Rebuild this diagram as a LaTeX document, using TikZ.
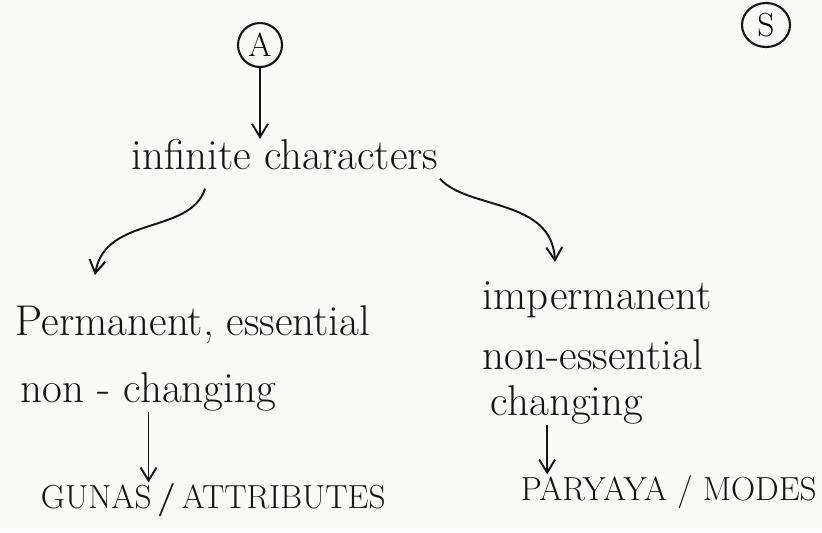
\documentclass[tikz,border=0pt]{standalone}
\usetikzlibrary{arrows.meta}
\usetikzlibrary{shapes.geometric}
\tikzset{>={Straight Barb[length=2.6mm,width=3.2mm]}}
\definecolor{paper}{RGB}{250,250,248}
\definecolor{ink}{RGB}{20,20,22}
\tikzset{hand/.style={font=\fontsize{24.5}{28}\selectfont, inner sep=0pt, text=ink}}
\tikzset{caps/.style={font=\fontsize{19}{23}\selectfont, inner sep=0pt, text=ink}}
\tikzset{ring/.style={circle, draw=ink, line width=1.2pt, inner sep=0pt, minimum size=0.88cm, font=\fontsize{19}{21}\selectfont}}

\begin{document}
\begin{tikzpicture}[x=0.02cm, y=-0.02cm, line width=1.1pt, draw=ink]
    \fill[paper](0,0)rectangle(822,532);
    \node[ring](A)at(260,45){A};
    \node[ring, ellipse, minimum width=0.96cm, minimum height=0.88cm](S)at(766,25){S};
    \node[hand](inf)at(285,155){infinite characters};
    % left branch
    \node[hand, anchor=west](perm)at(15,325){Permanent, essential};
    \node[hand, anchor=west](nc)at(20,392){non - changing};
    \node[caps, anchor=west](gunas)at(40,500){GUNAS\,\textbf{/}\,ATTRIBUTES};
    % right branch
    \node[hand, anchor=west](imp)at(482,300){impermanent};
    \node[hand, anchor=west](ness)at(482,355){non-essential};
    \node[hand, anchor=west](chg)at(490,405){changing};
    \node[caps, anchor=west](modes)at(520,492){PARYAYA / MODES};
    \draw[->](A.south)--(A.south|-inf.north);
    \draw[->]([xshift=-1.6cm, yshift=-0.35cm]inf.south)..controls(190,235)and(105,215)..(95,275);
    \draw[->]([xshift=3.1cm, yshift=-0.15cm]inf.south)..controls(468,210)and(552,198)..(555,262);
    \draw[->](nc.south)--(nc.south|-gunas.north);
    \draw[->]([xshift=-0.4cm]chg.south)--([xshift=-0.4cm]chg.south|-modes.north);
\end{tikzpicture}
\end{document}
